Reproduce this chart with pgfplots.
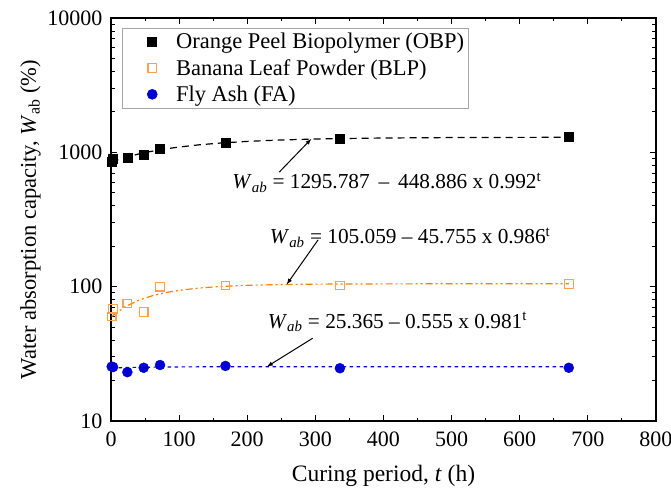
\documentclass[border=0pt]{standalone}
\usepackage{fontspec}
\setmainfont{Liberation Serif}
\usepackage{pgfplots}
\pgfplotsset{compat=1.18}
\definecolor{obp}{RGB}{0,0,0}
\definecolor{blp}{RGB}{255,128,0}
\definecolor{blpm}{RGB}{255,160,80}
\definecolor{fa}{RGB}{0,0,210}
\begin{document}
\begin{tikzpicture}
\useasboundingbox (0,0) rectangle (671bp,492bp);
\begin{axis}[
  at={(111bp,71bp)}, anchor=south west,
  scale only axis, width=545bp, height=403bp,
  ymode=log, xmin=0, xmax=800, ymin=10, ymax=10000,
  xtick={0,100,...,800}, minor x tick num=1,
  ytick={10,100,1000,10000}, yticklabels={10,100,1000,10000},
  tick align=inside, major tick length=6bp, minor tick length=3.5bp,
  tick style={black, line width=0.9bp},
  axis line style={line width=1.1bp},
  /pgf/number format/assume math mode=true,
  ticklabel style={font=\fontsize{22bp}{24bp}\selectfont},
  xticklabel style={yshift=-7bp},
  yticklabel style={xshift=-5bp},
  xlabel={Curing period, \textit{t} (h)},
  ylabel={Water absorption capacity, \textit{W}\textsubscript{ab} (\%)},
  xlabel style={font=\fontsize{23.5bp}{26bp}\selectfont, yshift=-12bp},
  ylabel style={font=\fontsize{22.5bp}{25bp}\selectfont, yshift=0bp},
  legend style={at={(0.02,0.975)}, anchor=north west, draw=gray!70, line width=0.6bp,
    font=\fontsize{22.5bp}{24bp}\selectfont, row sep=5bp, inner xsep=2bp, inner ysep=3bp},
  legend cell align=left,
  legend image code/.code={\path[draw=none,fill=none] (0cm,-0.05cm) rectangle (1.76cm,0.05cm); \draw[#1] plot coordinates {(0.99cm,0cm)};},
  clip=false,
]
% fitted curves
\addplot[black, line width=1.2bp, dash pattern=on 7bp off 5bp, forget plot] coordinates {
 (1,850) (20,913) (40,970) (60,1018) (80,1060) (100,1095) (130,1138) (160,1172)
 (200,1206) (250,1236) (300,1256) (350,1269) (400,1278) (500,1288) (600,1292) (672,1294)};
\addplot[blp, line width=1.2bp, dash pattern=on 7bp off 3bp on 2bp off 3bp on 2bp off 3bp, forget plot] coordinates {
 (1,60) (20,70.6) (40,79.0) (60,85.4) (80,90.3) (100,93.9) (130,97.7) (160,100.3)
 (200,102.3) (250,103.7) (300,104.4) (400,104.9) (500,105.0) (672,105.1)};
\addplot[fa, line width=1.2bp, dash pattern=on 3.5bp off 3.5bp, forget plot] coordinates {
 (1,24.8) (20,25.0) (50,25.15) (100,25.28) (200,25.35) (400,25.36) (672,25.37)};
% data
\addplot[only marks, mark=square*, mark size=4.5bp, color=black] coordinates {
 (1,850) (3,890) (24,905) (48,965) (72,1060) (168,1185) (336,1262) (672,1300)};
\addlegendentry{Orange Peel Biopolymer (OBP)}
\addplot[only marks, mark=square, mark size=4.3bp, color=blpm, mark options={line width=1.1bp}] coordinates {
 (1,60) (3,68) (24,75) (48,65) (72,100) (168,102) (336,102) (672,104.5)};
\addlegendentry{Banana Leaf Powder (BLP)}
\addplot[only marks, mark=*, mark size=5bp, color=fa] coordinates {
 (1,25.4) (3,25.2) (24,23.1) (48,24.9) (72,26.1) (168,25.7) (336,24.7) (672,24.9)};
\addlegendentry{Fly Ash (FA)}
% annotations
\draw[-latex, line width=1bp] (axis cs:247,713) -- (axis cs:294,1258);
\draw[-latex, line width=1bp] (axis cs:304,223) -- (axis cs:258,104);
\draw[-latex, line width=1bp] (axis cs:296,41.3) -- (axis cs:229,25.4);
\node[anchor=west, inner sep=0pt, font=\fontsize{21.3bp}{23bp}\selectfont] at (axis cs:178,594)
 {\textit{W}\textsubscript{\textit{ab}} = 1295.787 \,–\, 448.886 x 0.992\textsuperscript{t}};
\node[anchor=west, inner sep=0pt, font=\fontsize{21.3bp}{23bp}\selectfont] at (axis cs:233,232)
 {\textit{W}\textsubscript{\textit{ab}} = 105.059 – 45.755 x 0.986\textsuperscript{t}};
\node[anchor=west, inner sep=0pt, font=\fontsize{21.3bp}{23bp}\selectfont] at (axis cs:230,54.7)
 {\textit{W}\textsubscript{\textit{ab}} = 25.365 – 0.555 x 0.981\textsuperscript{t}};
\end{axis}
\end{tikzpicture}
\end{document}
